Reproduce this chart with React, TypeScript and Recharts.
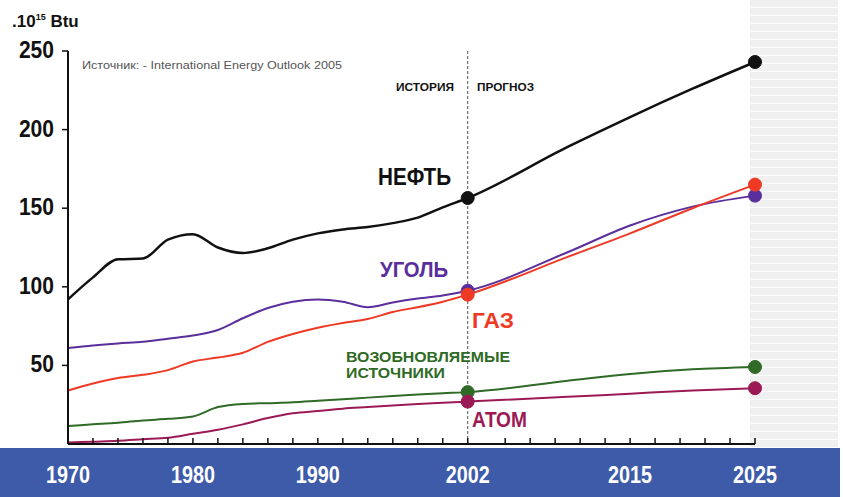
import React from 'react';
import { LineChart, Line, XAxis, YAxis, ReferenceLine } from 'recharts';

// годы (история — через 2 года, прогноз — реже)
const years = [1970, 1972, 1974, 1976, 1978, 1980, 1982, 1984, 1986, 1988, 1990, 1992, 1994, 1996, 1998, 2000, 2002, 2010, 2015, 2020, 2025];

// значения, 10^15 Btu
const oil = [92, 106, 117.5, 118, 130, 133.5, 125, 121.5, 124.5, 130, 134, 136.5, 138, 140.5, 144, 150.5, 156.5, 189, 208, 226, 243];
const coal = [61, 62.7, 64, 65, 67, 69, 72.5, 80, 86.5, 90.5, 92, 90.5, 87, 90, 92.5, 94.5, 97.5, 122, 139, 151, 158];
const gas = [34, 38.5, 42, 44, 47, 52.5, 55, 58, 65, 70, 74, 77, 79.5, 84, 87, 90.5, 95, 119, 134, 150, 165];
const renewables = [11.5, 12.5, 13.5, 15, 16, 17.5, 23.5, 25.5, 26, 26.5, 27.5, 28.5, 29.5, 30.5, 31.5, 32.3, 33, 40.2, 44.6, 47.5, 49];
const nuclear = [1, 1.5, 2, 3, 4, 6.5, 9, 12.5, 16.5, 19.5, 21, 22.5, 23.5, 24.5, 25.5, 26.3, 27, 30, 32, 34, 35.5];

const yTicks = [50, 100, 150, 200, 250];
const labelYears = [1970, 1980, 1990, 2002, 2015, 2025];
const minorTicks = [1970, 1972, 1974, 1976, 1978, 1980, 1982, 1984, 1986, 1988, 1990, 1992, 1994, 1996, 1998, 2000, 2002, 2005, 2007, 2009, 2011, 2013, 2015, 2017, 2019, 2021, 2023, 2025];
const markedYears = [2002, 2025];

const data = years.map((year, i) => ({
  year,
  oil: oil[i],
  coal: coal[i],
  gas: gas[i],
  renewables: renewables[i],
  nuclear: nuclear[i],
}));

const FONT = '"Liberation Sans", Arial, sans-serif';

// тики направлены вверх (tickSize < 0), подпись — в синей полосе
const XTick = (props: any) => {
  const { x, y, payload } = props;
  const v = payload.value;
  if (!labelYears.includes(v)) return <g />;
  return (
    <text
      x={x}
      y={y + 45}
      textAnchor="middle"
      fill="#fff"
      fontFamily={FONT}
      fontWeight="bold"
      fontSize={23}
      textLength={44}
      lengthAdjust="spacingAndGlyphs"
    >
      {v}
    </text>
  );
};

const YTick = (props: any) => {
  const { x, y, payload } = props;
  const s = String(payload.value);
  return (
    <text
      x={x}
      y={y + 7}
      textAnchor="end"
      fill="#111"
      fontFamily={FONT}
      fontWeight="bold"
      fontSize={24}
      textLength={s.length * 11.7}
      lengthAdjust="spacingAndGlyphs"
    >
      {s}
    </text>
  );
};

const makeDot = (color: string) => (props: any) => {
  const { cx, cy, payload, index } = props;
  if (!markedYears.includes(payload.year)) return <g key={`d-${index}`} />;
  return <circle key={`d-${index}`} cx={cx} cy={cy} r={6.5} fill={color} stroke={color} />;
};

const series = [
  { key: 'oil', color: '#111111', width: 2.5 },
  { key: 'coal', color: '#5a2e9c', width: 2 },
  { key: 'gas', color: '#ee3a24', width: 2 },
  { key: 'renewables', color: '#2f6a26', width: 2 },
  { key: 'nuclear', color: '#9b1a55', width: 2 },
];

const bold = { fontFamily: FONT, fontWeight: 'bold' as const };

export default function App() {
  return (
    <div style={{ position: 'relative', width: 843, height: 497, background: '#fff', overflow: 'hidden' }}>
      <style>{'body{margin:0}'}</style>
      {/* серая полоса справа */}
      <div
        style={{
          position: 'absolute',
          left: 750,
          top: 0,
          width: 88,
          height: 447,
          background: '#f0f0f0',
          backgroundImage: 'repeating-linear-gradient(to bottom, transparent 0 7px, rgba(255,255,255,0.9) 7px 8px)',
        }}
      />
      {/* синяя полоса под осью */}
      <div style={{ position: 'absolute', left: 0, top: 448, width: 840, height: 49, background: '#3d5ba8' }} />

      <div style={{ position: 'absolute', left: 0, top: 0 }}>
        <LineChart width={843} height={497} data={data} margin={{ top: 51, right: 88, bottom: 0, left: 0 }}>
          <XAxis
            dataKey="year"
            type="number"
            domain={[1970, 2025]}
            ticks={minorTicks}
            interval={0}
            tick={<XTick />}
            tickLine={{ stroke: '#111', strokeWidth: 1.5 }}
            tickSize={-6}
            tickMargin={0}
            height={53}
            axisLine={{ stroke: '#111', strokeWidth: 2 }}
          />
          <YAxis
            type="number"
            domain={[0, 250]}
            ticks={yTicks}
            width={68}
            tick={<YTick />}
            tickSize={6}
            tickMargin={8}
            tickLine={{ stroke: '#111', strokeWidth: 1.5 }}
            axisLine={{ stroke: '#111', strokeWidth: 2 }}
          />
          <ReferenceLine x={2002} stroke="#555" strokeDasharray="3 2" strokeWidth={1} />
          {series.map((s) => (
            <Line
              key={s.key}
              type="monotone"
              dataKey={s.key}
              stroke={s.color}
              strokeWidth={s.width}
              dot={makeDot(s.color)}
              activeDot={false}
              isAnimationActive={false}
            />
          ))}
        </LineChart>
      </div>

      {/* подписи */}
      <svg width={843} height={497} style={{ position: 'absolute', left: 0, top: 0, pointerEvents: 'none' }}>
        <text x={12} y={27} fill="#111" fontSize={17} {...bold}>
          .10<tspan fontSize={9} dy={-7}>15</tspan>
          <tspan dy={7}> Btu</tspan>
        </text>
        <text x={82} y={69} fill="#555" fontFamily={FONT} fontSize={11} textLength={260} lengthAdjust="spacingAndGlyphs">
          Источник: - International Energy Outlook 2005
        </text>
        <text x={396} y={91} fill="#111" fontSize={11} textLength={58} lengthAdjust="spacingAndGlyphs" {...bold}>
          ИСТОРИЯ
        </text>
        <text x={477} y={91} fill="#111" fontSize={11} textLength={57} lengthAdjust="spacingAndGlyphs" {...bold}>
          ПРОГНОЗ
        </text>
        <text x={378} y={185} fill="#111" fontSize={23} textLength={73} lengthAdjust="spacingAndGlyphs" {...bold}>
          НЕФТЬ
        </text>
        <text x={380} y={277} fill="#5a2e9c" fontSize={22} textLength={68} lengthAdjust="spacingAndGlyphs" {...bold}>
          УГОЛЬ
        </text>
        <text x={472} y={328} fill="#ee3a24" fontSize={22} textLength={42} lengthAdjust="spacingAndGlyphs" {...bold}>
          ГАЗ
        </text>
        <text x={346} y={362} fill="#2f6a26" fontSize={15} textLength={164} lengthAdjust="spacingAndGlyphs" {...bold}>
          ВОЗОБНОВЛЯЕМЫЕ
        </text>
        <text x={346} y={378} fill="#2f6a26" fontSize={15} textLength={99} lengthAdjust="spacingAndGlyphs" {...bold}>
          ИСТОЧНИКИ
        </text>
        <text x={472} y={427} fill="#9b1a55" fontSize={22} textLength={55} lengthAdjust="spacingAndGlyphs" {...bold}>
          АТОМ
        </text>
      </svg>
    </div>
  );
}
